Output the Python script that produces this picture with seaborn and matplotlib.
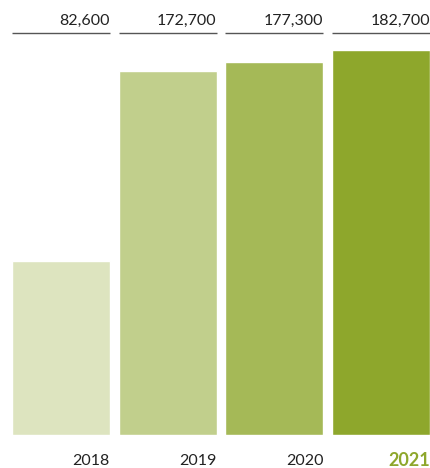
import pandas as pd
import matplotlib
matplotlib.use("Agg")
import matplotlib.pyplot as plt
import seaborn as sns

years = ["2018", "2019", "2020", "2021"]
values = [82600, 172700, 177300, 182700]
colors = ["#dde4bf", "#c1cf8c", "#a5b957", "#8ea72c"]

df = pd.DataFrame({"year": years, "value": [v / 1000 for v in values]})

sns.set_style("white")
plt.rcParams["font.family"] = ["Lato", "DejaVu Sans"]

fig = plt.figure(figsize=(4.3, 4.68), dpi=100)
ax = fig.add_axes([12 / 430, 1 - 435 / 468, 418 / 430, 421 / 468])

sns.barplot(data=df, x="year", y="value", hue="year", palette=colors,
            width=0.916, legend=False, saturation=1, ax=ax)

ax.set_xlim(-0.458, 3.458)
ax.set_ylim(0, 200)
ax.axis("off")

for i, p in enumerate(ax.patches):
    x0 = p.get_x()
    x1 = x0 + p.get_width()
    ax.hlines(190.8, x0, x1, color="#555555", lw=1)
    ax.text(x1, 193.5, f"{values[i]:,}", ha="right", va="bottom",
            fontsize=11.5, color="#222222")
    last = i == len(years) - 1
    ax.text(x1, -12.3, years[i], ha="right", va="center", clip_on=False,
            fontsize=13 if last else 11.5,
            fontweight="bold" if last else "normal",
            color=colors[i] if last else "#222222")

fig.savefig("out.png", dpi=100)
